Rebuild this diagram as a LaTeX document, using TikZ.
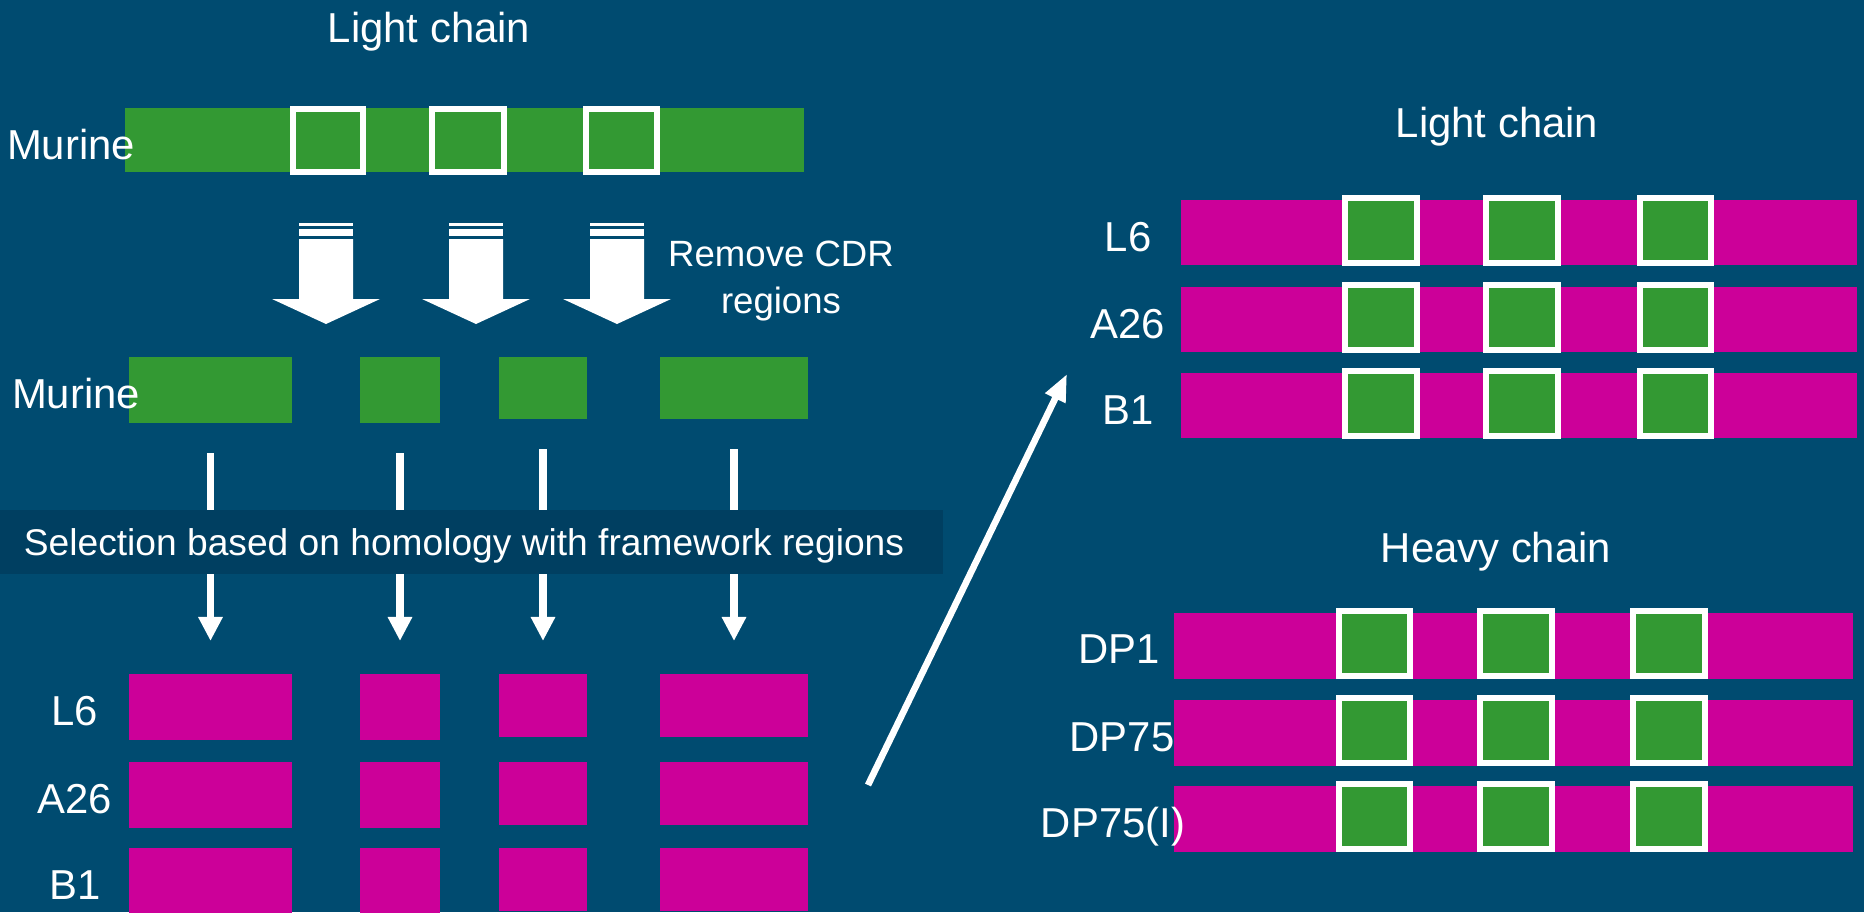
\documentclass[tikz,border=0pt]{standalone}
\usepackage{fontspec}
\setmainfont{Liberation Sans}
\usepackage{xcolor}
\usetikzlibrary{arrows.meta,fit}
\definecolor{bgblue}{RGB}{0,75,112}
\definecolor{bandblue}{RGB}{0,63,97}
\definecolor{cdrgreen}{RGB}{51,153,51}
\definecolor{fwpink}{RGB}{204,0,153}

\begin{document}
\begin{tikzpicture}[x=0.01cm, y=-0.01cm,
  every node/.style={text=white, font=\fontsize{11.9}{14}\selectfont},
  lbl/.style={anchor=base},
  small/.style={font=\fontsize{10.4}{13.4}\selectfont},
  block/.style={fill=#1, inner sep=0pt, outer sep=0pt},
  cdr/.style={draw=white, fill=cdrgreen, line width=0.06cm},
  thinarrow/.style={draw=white, line width=0.077cm, -{Triangle[width=0.23cm,length=0.24cm]}}]
  \useasboundingbox (0,0) rectangle (1864,912);
  \fill[bgblue] (0,0) rectangle (1864,912);
  \node[lbl] (tlight) at (429,42) {Light chain};
  \fill[cdrgreen] (125,108) rectangle (804,172);
  \foreach \a/\b in {293/363,432/504,586/657}
    \draw[cdr] (\a,109) rectangle (\b,172);
  \node[lbl] (murtop) at (71,159) {Murine};
  \foreach \c in {326,476,617} {
    \fill[white] (\c-27,223) rectangle (\c+27,226);
    \fill[white] (\c-27,229) rectangle (\c+27,236);
    \fill[white] (\c-27,239) -- (\c+27,239) -- (\c+27,299) -- (\c+54,299)
      -- (\c,324) -- (\c-54,299) -- (\c-27,299) -- cycle;
  }
  \node[small, align=center] (remove) at (781,281) {Remove CDR\\regions};
  \foreach \a/\b/\h [count=\i] in {129/292/66,360/440/66,499/587/62,660/808/62}
    \node[block=cdrgreen, fit={(\a,357) (\b,357+\h)}] (g\i) {};
  \node[lbl] (murmid) at (76,408) {Murine};
  \foreach \t/\lab/\bl [count=\k] in {674/L6/725,762/A26/813,848/B1/899} {
    \foreach \a/\b/\h [count=\i] in {129/292/66,360/440/66,499/587/63,660/808/63}
      \node[block=fwpink, fit={(\a,\t) (\b,\t+\h)}] (left\k\i) {};
    \node[lbl] (llab\k) at (75,\bl) {\lab};
  }
  \foreach \i in {1,...,4}
    \draw[thinarrow, shorten <=0.3cm, shorten >=0.33cm] (g\i) -- (left1\i);
  \node[block=bandblue, fit={(0,510) (943,574)}] (band) {};
  \node[lbl, font=\fontsize{10.57}{13.4}\selectfont] (select) at (464,555) {Selection based on homology with framework regions};
  \coordinate (diagfrom) at (868,785);
  \coordinate (diagto) at (1067,374);
  \draw[thinarrow, line width=0.066cm, -{Triangle[width=0.21cm,length=0.27cm]}] (diagfrom) -- (diagto);
  \node[lbl] (rlight) at (1497,137) {Light chain};
  \foreach \t/\lab/\bl [count=\k] in {200/L6/251,287/A26/338,373/B1/424} {
    \node[block=fwpink, fit={(1181,\t) (1857,\t+65)}] (right\k) {};
    \foreach \a/\b in {1345/1417,1486/1558,1640/1711}
      \draw[cdr] (\a,\t-2) rectangle (\b,\t+63);
    \node[lbl] (rlab\k) at (1128,\bl) {\lab};
  }
  \node[lbl] (rheavy) at (1496,562) {Heavy chain};
  \foreach \t/\lab/\lx/\bl [count=\k] in {613/DP1/1119/663,700/DP75/1122/751,786/DP75(I)/1113/837} {
    \node[block=fwpink, fit={(1174,\t) (1853,\t+66)}] (heavy\k) {};
    \foreach \a/\b in {1339/1410,1480/1552,1633/1705}
      \draw[cdr] (\a,\t-2) rectangle (\b,\t+63);
    \node[lbl] (hlab\k) at (\lx,\bl) {\lab};
  }
\end{tikzpicture}
\end{document}
